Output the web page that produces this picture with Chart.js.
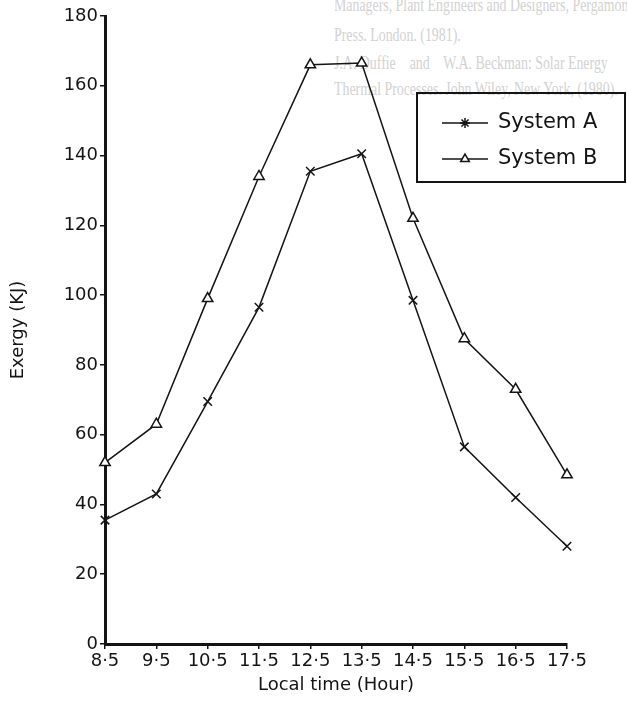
<!DOCTYPE html>
<html>
<head>
<meta charset="utf-8">
<title>Exergy vs local time</title>
<script src="https://cdn.jsdelivr.net/npm/chart.js@4.4.1/dist/chart.umd.min.js"></script>
<style>
  html, body { margin: 0; padding: 0; background: #fff; }
  #wrap { position: relative; width: 627px; height: 707px; overflow: hidden; }
  /* faint print bleeding through from the other side of the page */
  .ghost { position: absolute; left: 334px; color: #d2d2d2; font-family: "Liberation Serif", serif;
           font-size: 19px; white-space: nowrap; transform: scaleX(0.73); transform-origin: 0 0; }
  canvas { position: absolute; left: 0; top: 0; }
</style>
</head>
<body>
<div id="wrap">
  <div class="ghost" style="top:-6px">Managers, Plant Engineers and Designers, Pergamon</div>
  <div class="ghost" style="top:24px">Press. London. (1981).</div>
  <div class="ghost" style="top:52px">J.A. Duffie &nbsp;&nbsp; and &nbsp;&nbsp; W.A. Beckman: Solar Energy</div>
  <div class="ghost" style="top:78px">Thermal Processes. John Wiley, New York, (1980).</div>
  <canvas id="chart" width="627" height="707"></canvas>
</div>
<script>
// hours of the day on the x axis, and the labels printed under them
const hours = [8.5, 9.5, 10.5, 11.5, 12.5, 13.5, 14.5, 15.5, 16.5, 17.5];
const hourLabels = ['8·5', '9·5', '10·5', '11·5', '12·5', '13·5', '14·5', '15·5', '16·5', '17·5'];

// exergy in kJ
const systemA = [35.5, 43, 69.5, 96.5, 135.5, 140.5, 98.5, 56.5, 42, 28];
const systemB = [52, 63, 99, 134, 166, 166.5, 122, 87.5, 73, 48.5];

const yTicks = [0, 20, 40, 60, 80, 100, 120, 140, 160, 180];

const ink = '#141414';
const font = "'DejaVu Sans', sans-serif";

function toPoints(values) {
    return values.map((v, i) => ({ x: hours[i], y: v }));
}

// legend drawn inside the plot, line + marker like the original figure
const legendMarks = ['star', 'triangle'];
const boxLegend = {
    id: 'boxLegend',
    afterDraw(chart) {
        const ctx = chart.ctx;
        ctx.save();
        ctx.strokeStyle = ink;
        ctx.lineWidth = 2;
        ctx.strokeRect(417, 93, 208, 89);
        const rows = [123, 159];
        chart.data.datasets.forEach((ds, i) => {
            const y = rows[i];
            ctx.strokeStyle = ink;
            ctx.lineWidth = 1.5;
            ctx.beginPath();
            ctx.moveTo(442, y);
            ctx.lineTo(488, y);
            ctx.stroke();
            ctx.fillStyle = '#fff';
            Chart.helpers.drawPoint(ctx, {
                pointStyle: legendMarks[i],
                radius: 5,
                borderWidth: 1.5
            }, 465, y);
            ctx.fillStyle = ink;
            ctx.font = '21px ' + font;
            ctx.textBaseline = 'middle';
            ctx.textAlign = 'left';
            ctx.fillText(ds.label, 498, y);
        });
        ctx.restore();
    }
};

const ctx = document.getElementById('chart').getContext('2d');
new Chart(ctx, {
    type: 'line',
    data: {
        datasets: [
            {
                label: 'System A',
                data: toPoints(systemA),
                borderColor: ink,
                backgroundColor: 'rgba(0,0,0,0)',
                borderWidth: 1.5,
                pointStyle: 'crossRot',
                pointRadius: 6,
                pointBorderWidth: 1.5,
                pointBorderColor: ink,
                clip: false,
                tension: 0
            },
            {
                label: 'System B',
                data: toPoints(systemB),
                borderColor: ink,
                backgroundColor: 'rgba(0,0,0,0)',
                borderWidth: 1.5,
                pointStyle: 'triangle',
                pointRadius: 6,
                pointBorderWidth: 1.5,
                pointBorderColor: ink,
                pointBackgroundColor: '#fff',
                clip: false,
                tension: 0
            }
        ]
    },
    options: {
        responsive: false,
        animation: false,
        layout: { padding: { top: 16, right: 60, left: 0, bottom: 11 } },
        plugins: {
            legend: { display: false },
            tooltip: { enabled: false }
        },
        scales: {
            x: {
                type: 'linear',
                min: hours[0],
                max: hours[hours.length - 1],
                afterBuildTicks: scale => { scale.ticks = hours.map(h => ({ value: h })); },
                afterFit: scale => { scale.height = 52; },
                grid: { drawOnChartArea: false, drawTicks: true, tickLength: 5, color: ink, lineWidth: 1.5 },
                border: { display: true, color: ink, width: 3 },
                ticks: {
                    color: ink,
                    padding: 2,
                    maxRotation: 0,
                    autoSkip: false,
                    font: { family: font, size: 18 },
                    callback: (value) => hourLabels[hours.indexOf(value)]
                },
                title: {
                    display: true,
                    text: 'Local time (Hour)',
                    color: ink,
                    font: { family: font, size: 18 },
                    padding: { top: 2, bottom: 0 }
                }
            },
            y: {
                min: 0,
                max: 180,
                afterBuildTicks: scale => { scale.ticks = yTicks.map(v => ({ value: v })); },
                afterFit: scale => { scale.width = 105; },
                grid: { drawOnChartArea: false, drawTicks: true, tickLength: 5, color: ink, lineWidth: 1.5 },
                border: { display: true, color: ink, width: 3 },
                ticks: {
                    color: ink,
                    padding: 2,
                    font: { family: font, size: 18 }
                },
                title: {
                    display: true,
                    text: 'Exergy (KJ)',
                    color: ink,
                    font: { family: font, size: 18 },
                    padding: { top: 8, bottom: 0 }
                }
            }
        }
    },
    plugins: [boxLegend]
});
</script>
</body>
</html>
